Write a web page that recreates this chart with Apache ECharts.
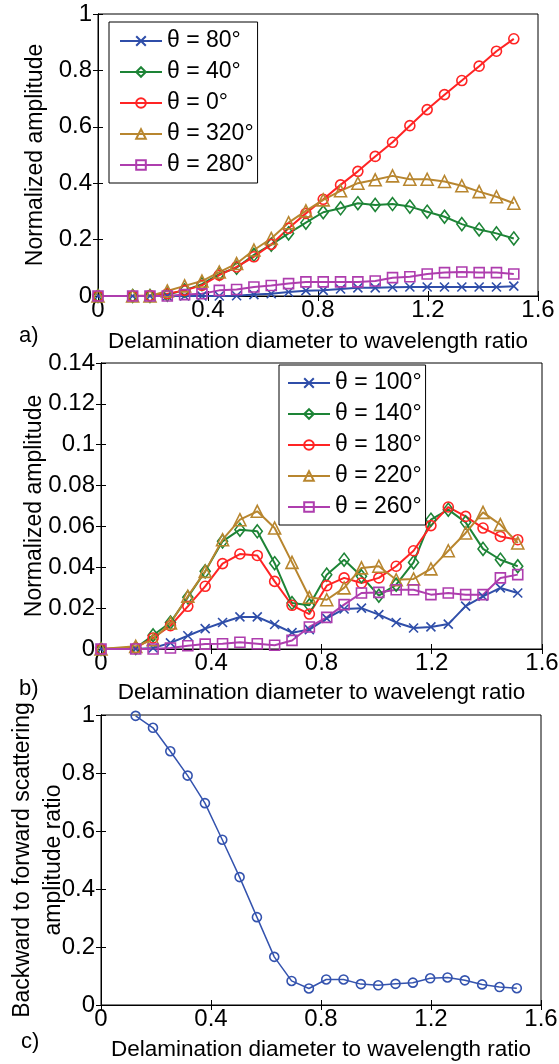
<!DOCTYPE html>
<html><head><meta charset="utf-8">
<script src="https://cdn.jsdelivr.net/npm/echarts@6/dist/echarts.min.js"></script>
<style>html,body{margin:0;padding:0;background:#fff}#c{width:559px;height:1064px}</style>
</head><body><div id="c"></div>
<script>
// ---------- data ----------
const xRatio = [0, 0.126, 0.189, 0.252, 0.315, 0.378, 0.441, 0.504, 0.567, 0.630, 0.693, 0.756, 0.819, 0.882, 0.945, 1.008, 1.071, 1.134, 1.197, 1.260, 1.323, 1.386, 1.449, 1.512];
const xRatioC = [0.126, 0.189, 0.252, 0.315, 0.378, 0.441, 0.504, 0.567, 0.630, 0.693, 0.756, 0.819, 0.882, 0.945, 1.008, 1.071, 1.134, 1.197, 1.260, 1.323, 1.386, 1.449, 1.512];

const namesA = ['θ = 80°', 'θ = 40°', 'θ = 0°', 'θ = 320°', 'θ = 280°'];
const a80  = [0, 0, 0, 0, 0, 0, 0, 0.001, 0.005, 0.008, 0.014, 0.019, 0.020, 0.025, 0.029, 0.029, 0.031, 0.032, 0.032, 0.032, 0.032, 0.032, 0.032, 0.035];
const a40  = [0, 0, 0, 0.005, 0.020, 0.042, 0.078, 0.100, 0.146, 0.182, 0.222, 0.260, 0.297, 0.311, 0.329, 0.323, 0.326, 0.317, 0.299, 0.281, 0.255, 0.236, 0.222, 0.204];
const a0   = [0, 0, 0.002, 0.008, 0.020, 0.038, 0.074, 0.103, 0.139, 0.183, 0.240, 0.293, 0.343, 0.394, 0.442, 0.495, 0.545, 0.604, 0.661, 0.714, 0.764, 0.815, 0.868, 0.912];
const a320 = [0, 0, 0, 0.018, 0.036, 0.053, 0.085, 0.115, 0.163, 0.204, 0.260, 0.302, 0.341, 0.373, 0.400, 0.412, 0.426, 0.414, 0.414, 0.406, 0.391, 0.370, 0.352, 0.329];
const a280 = [0, 0, 0, 0, 0.005, 0.008, 0.020, 0.023, 0.032, 0.037, 0.044, 0.050, 0.050, 0.050, 0.050, 0.053, 0.065, 0.068, 0.078, 0.083, 0.085, 0.083, 0.083, 0.078];

const namesB = ['θ = 100°', 'θ = 140°', 'θ = 180°', 'θ = 220°', 'θ = 260°'];
const b100 = [0, 0, 0.0005, 0.003, 0.0065, 0.010, 0.013, 0.0157, 0.0157, 0.012, 0.008, 0.0095, 0.015, 0.0196, 0.020, 0.0168, 0.013, 0.0103, 0.0108, 0.0122, 0.021, 0.0258, 0.0299, 0.0274];
const b140 = [0, 0.0005, 0.0067, 0.013, 0.0253, 0.038, 0.0527, 0.0584, 0.0576, 0.042, 0.0225, 0.0214, 0.0364, 0.0437, 0.0356, 0.0261, 0.0315, 0.0424, 0.0633, 0.0682, 0.062, 0.049, 0.0437, 0.0405];
const b180 = [0, 0.0005, 0.0054, 0.0114, 0.0209, 0.0307, 0.0418, 0.0465, 0.0458, 0.0331, 0.0214, 0.0171, 0.031, 0.0348, 0.0323, 0.0348, 0.0405, 0.0481, 0.0604, 0.0695, 0.0649, 0.0592, 0.0551, 0.0535];
const b220 = [0, 0.0013, 0.0046, 0.0127, 0.0258, 0.038, 0.0535, 0.0633, 0.0674, 0.0592, 0.0424, 0.0253, 0.0241, 0.0299, 0.0397, 0.0405, 0.0339, 0.0343, 0.0392, 0.0481, 0.0568, 0.0669, 0.0609, 0.0519];
const b260 = [0, 0, 0, 0.0005, 0.0016, 0.0024, 0.0026, 0.0033, 0.0026, 0.0018, 0.0042, 0.0108, 0.0155, 0.0217, 0.0274, 0.0277, 0.029, 0.029, 0.0266, 0.0274, 0.0266, 0.0266, 0.0348, 0.0364];

const cRatio = [0.997, 0.956, 0.875, 0.791, 0.696, 0.570, 0.441, 0.303, 0.166, 0.083, 0.057, 0.088, 0.088, 0.072, 0.068, 0.073, 0.077, 0.092, 0.095, 0.085, 0.071, 0.062, 0.058];

const xTitleA = 'Delamination diameter to wavelength ratio';
const xTitleB = 'Delamination diameter to wavelengt ratio';
const yTitleAB = 'Normalized amplitude';
const yTitleC = 'Backward to forward scattering\namplitude ratio';
const panelLabels = ['a)', 'b)', 'c)'];

// ---------- styling ----------
const F = '"Liberation Sans", Arial, sans-serif';
const COL = { blue: '#2f4ea9', green: '#1d8436', red: '#ff2424', tan: '#b8862f', purple: '#ae3dae' };
const XSYM = 'path://M0,0L10,10M10,0L0,10';

const grids = [
  { left: 98, right: 21, top: 14, height: 282 },
  { left: 101, right: 17, top: 363, height: 286 },
  { left: 101, right: 18, top: 715, height: 290 }
];
const yRanges = [ {max: 1, interval: 0.2}, {max: 0.14, interval: 0.02}, {max: 1, interval: 0.2} ];

const tick = { inside: true, length: 5, lineStyle: { color: '#000', width: 1 } };
const axLine = { lineStyle: { color: '#000', width: 1 } };

const xAxes = [], yAxes = [];
const xNames = [xTitleA, xTitleB, xTitleA];
const xGaps = [34, 32, 33];
const yNames = [yTitleAB, yTitleAB, yTitleC];
const yGaps = [47, 51, 32];
for (let g = 0; g < 3; g++) {
  xAxes.push({ type: 'value', gridIndex: g, min: 0, max: 1.6, interval: 0.4, position: 'bottom',
    name: xNames[g], nameLocation: 'middle', nameGap: xGaps[g], nameMoveOverlap: false,
    nameTextStyle: { fontSize: 22.5, color: '#000', fontFamily: F },
    axisLine: axLine, axisTick: tick, splitLine: { show: false },
    axisLabel: { fontSize: 24, color: '#000', margin: 2, fontFamily: F } });
  xAxes.push({ type: 'value', gridIndex: g, min: 0, max: 1.6, interval: 0.4, position: 'top',
    axisLine: axLine, axisTick: tick, splitLine: { show: false }, axisLabel: { show: false } });
  yAxes.push({ type: 'value', gridIndex: g, min: 0, max: yRanges[g].max, interval: yRanges[g].interval, position: 'left',
    name: yNames[g], nameLocation: 'middle', nameGap: yGaps[g], nameMoveOverlap: false,
    nameTextStyle: { fontSize: 23, color: '#000', fontFamily: F, lineHeight: 31 },
    axisLine: axLine, axisTick: tick, splitLine: { show: false },
    axisLabel: { fontSize: 24, color: '#000', margin: 6, fontFamily: F } });
  yAxes.push({ type: 'value', gridIndex: g, min: 0, max: yRanges[g].max, interval: yRanges[g].interval, position: 'right',
    axisLine: axLine, axisTick: tick, splitLine: { show: false }, axisLabel: { show: false } });
}

function pairs(xs, ys) { return xs.map((x, i) => [x, ys[i]]); }
function mk(name, g, xs, ys, color, symbol, size, lw) {
  return { type: 'line', name, xAxisIndex: g * 2, yAxisIndex: g * 2, data: pairs(xs, ys),
    symbol, symbolSize: size, showAllSymbol: true,
    lineStyle: { color, width: lw },
    itemStyle: { color: 'rgba(0,0,0,0)', borderColor: color, borderWidth: 1.6 },
    emphasis: { disabled: true }, z: 3 };
}
const markerSpec = [
  [COL.blue, XSYM, 9], [COL.green, 'diamond', [10, 13]], [COL.red, 'circle', 10],
  [COL.tan, 'triangle', 12], [COL.purple, 'rect', 10]
];
const seriesA = [a80, a40, a0, a320, a280];
const seriesB = [b100, b140, b180, b220, b260];
const series = [];
seriesA.forEach((d, i) => series.push(mk(namesA[i], 0, xRatio, d, markerSpec[i][0], markerSpec[i][1], markerSpec[i][2], 2)));
seriesB.forEach((d, i) => series.push(mk(namesB[i], 1, xRatio, d, markerSpec[i][0], markerSpec[i][1], markerSpec[i][2], 2)));
series.push(mk('ratio', 2, xRatioC, cRatio, '#3453ae', 'circle', 9, 1.5));

const legendBase = { orient: 'vertical', itemGap: 7, itemWidth: 42, itemHeight: 12,
  backgroundColor: '#fff', borderColor: '#000', borderWidth: 1, borderRadius: 0,
  selectedMode: false, textStyle: { fontSize: 23, color: '#000', fontFamily: F, lineHeight: 24 } };

const option = {
  animation: false,
  backgroundColor: '#fff',
  grid: grids.map(g => Object.assign({ show: true, borderColor: '#000', borderWidth: 1, backgroundColor: 'transparent',
    containLabel: false, outerBoundsMode: 'none' }, g)),
  xAxis: xAxes, yAxis: yAxes,
  legend: [
    Object.assign({}, legendBase, { data: namesA, left: 109, top: 22, padding: [7, 4, 6, 10] }),
    Object.assign({}, legendBase, { data: namesB, left: 279, top: 365, padding: [6, 4, 6, 8] })
  ],
  graphic: [
    { type: 'text', x: 19, y: 336, style: { text: panelLabels[0], fontSize: 22, fontFamily: F, fill: '#000', verticalAlign: 'middle' } },
    { type: 'text', x: 19, y: 689, style: { text: panelLabels[1], fontSize: 22, fontFamily: F, fill: '#000', verticalAlign: 'middle' } },
    { type: 'text', x: 21, y: 1042, style: { text: panelLabels[2], fontSize: 22, fontFamily: F, fill: '#000', verticalAlign: 'middle' } }
  ],
  series
};
const chart = echarts.init(document.getElementById('c'), null, { renderer: 'canvas' });
chart.setOption(option);
</script></body></html>
